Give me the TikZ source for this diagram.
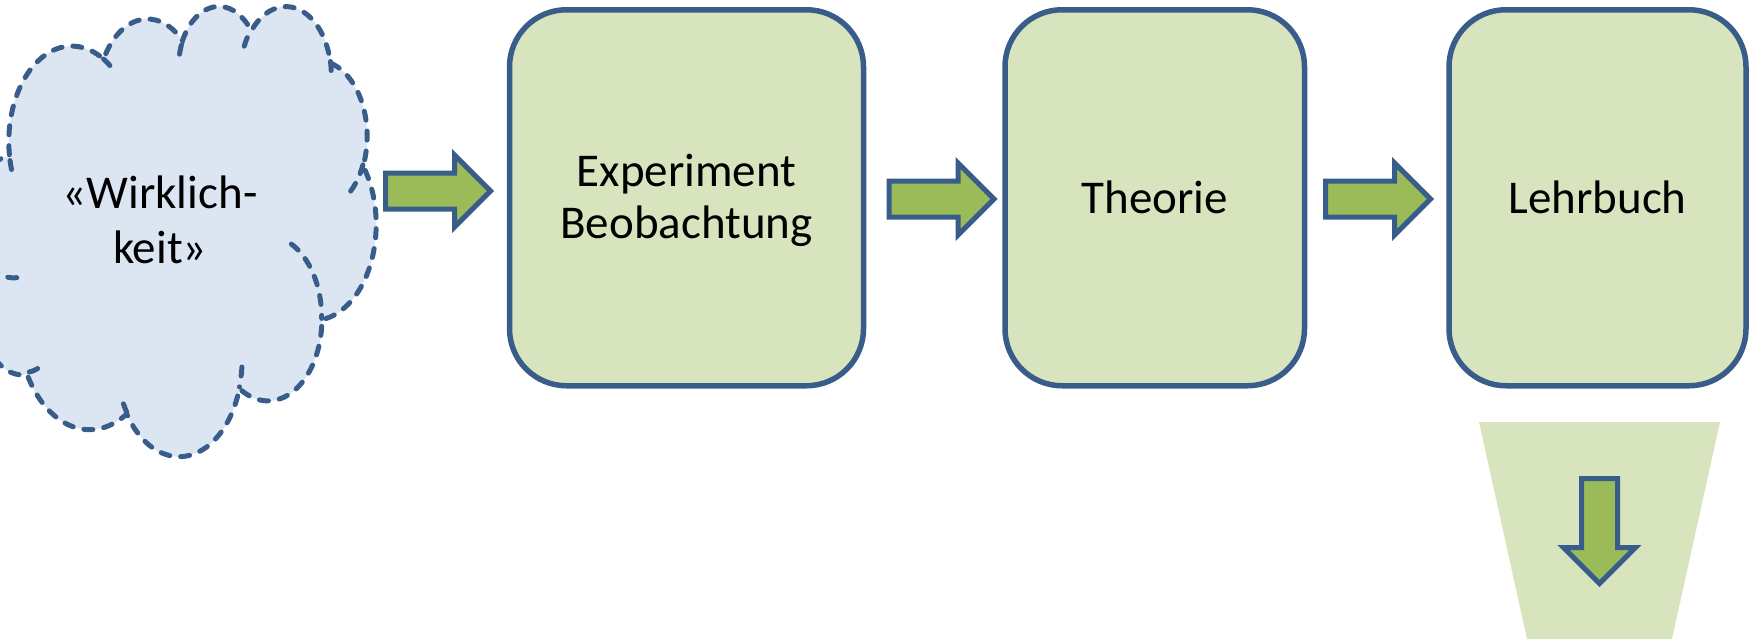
\documentclass[tikz,border=0pt]{standalone}
\usepackage{fontspec}
\setmainfont{Carlito}
\usetikzlibrary{shapes.arrows}

\definecolor{frameblue}{RGB}{56,93,138}
\definecolor{boxgreen}{RGB}{215,228,189}
\definecolor{arrowgreen}{RGB}{155,187,89}
\definecolor{cloudblue}{RGB}{220,230,242}

% parametric angle of an ellipse point given by its visual angle
\newcommand\cpar[3]{(#3+mod(atan2((#1)*sin(#3),(#2)*cos(#3))-(#3)+900,360)-180)}

\tikzset{
  stage/.style={draw=frameblue, fill=boxgreen, line width=5.5pt, rounded corners=57pt,
    minimum height=376pt, align=center, font=\fontsize{47}{52}\selectfont, inner sep=0pt},
  flowarrow/.style={single arrow, draw=frameblue, fill=arrowgreen, line width=5pt,
    minimum height=105pt, single arrow head extend=18pt, single arrow head indent=0pt,
    inner xsep=0pt, inner ysep=15.5pt, outer sep=0pt},
  cloudline/.style={draw=frameblue, line width=5pt, line cap=round, dash pattern=on 9pt off 11pt},
}

\begin{document}
\begin{tikzpicture}[x=1pt, y=-1pt]
  \useasboundingbox (0,0) rectangle (1751,641);
  \clip (0,0) rectangle (1751,641);
  % cloud
  \begin{scope}[shift={(-27pt,-5pt)}, x=0.93287pt, y=-1.04167pt]
    \draw[cloudline, fill=cloudblue] (39.00,143.70)
      \foreach \rx/\ry/\sa/\sw in {67.53/91.90/-190.48748/123.78053,
        53.33/72.67/-144.10238/89.94523, 43.65/59.45/-145.80792/99.72302,
        48.57/65.95/-130.98607/117.24173, 53.33/72.73/-78.70888/109.02692,
        67.75/92.20/-46.26725/130.26900, 57.85/78.67/0.62502/114.03333,
        67.52/92.15/22.45160/115.17255, 77.20/105.43/66.24263/75.71102,
        43.60/59.18/-274.94208/146.73557, 43.45/59.45/-246.82850/152.51885}
      { arc[x radius=\rx, y radius=\ry, start angle={\cpar{\rx}{\ry}{\sa}},
            end angle={\cpar{\rx}{\ry}{\sa+\sw}}] } -- cycle;
    \foreach \px/\py/\rx/\ry/\sa/\sw in {46.93/261.77/43.45/59.45/86.742/26.4295,
        69.28/348.99/43.60/59.18/73.61047/11.44747,
        164.78/390.90/67.52/92.15/137.62415/14.0811,
        288.27/347.51/67.52/92.15/6.45327/15.99835,
        341.29/229.54/57.85/78.67/-70.29235/70.91737,
        417.98/153.54/53.33/72.73/30.31803/27.7515,
        383.24/54.26/48.57/65.95/-13.74433/14.8589,
        290.78/39.52/48.57/65.95/-149.18145/18.19537,
        221.41/47.20/43.65/59.45/-163.49427/17.68635,
        140.00/51.92/67.53/91.90/-66.70695/12.31935,
        41.27/157.89/67.53/91.90/157.65435/11.85817}
      \draw[cloudline] (\px,\py) arc[x radius=\rx, y radius=\ry,
        start angle={\cpar{\rx}{\ry}{\sa}}, end angle={\cpar{\rx}{\ry}{\sa+\sw}}];
  \end{scope}
  \node[font=\fontsize{47}{55}\selectfont, align=center] (wirk) at (160,220) {«Wirklich-\\keit»};

  % stages
  \node[stage, minimum width=354pt] (exper) at (686.5,197.75) {\rule{0pt}{38pt}Experiment\\Beobachtung};
  \node[stage, minimum width=299.5pt] (theo) at (1154.75,197.75) {Theorie};
  \node[stage, minimum width=297pt] (lehr) at (1597.5,197.75) {Lehrbuch};

  % block arrows
  \node[flowarrow, anchor=tip] (arr1) at (490.5,191) {};
  \node[flowarrow, anchor=tip] (arr2) at (994,199) {};
  \node[flowarrow, anchor=tip] (arr3) at (1430.5,199) {};

  % funnel below the book
  \fill[boxgreen] (1479,422) -- (1720,422) -- (1672,639) -- (1527,639) -- cycle;
  \node[flowarrow, rotate=-90, anchor=tip] (arrdown) at (1599.5,583.5) {};
\end{tikzpicture}
\end{document}
